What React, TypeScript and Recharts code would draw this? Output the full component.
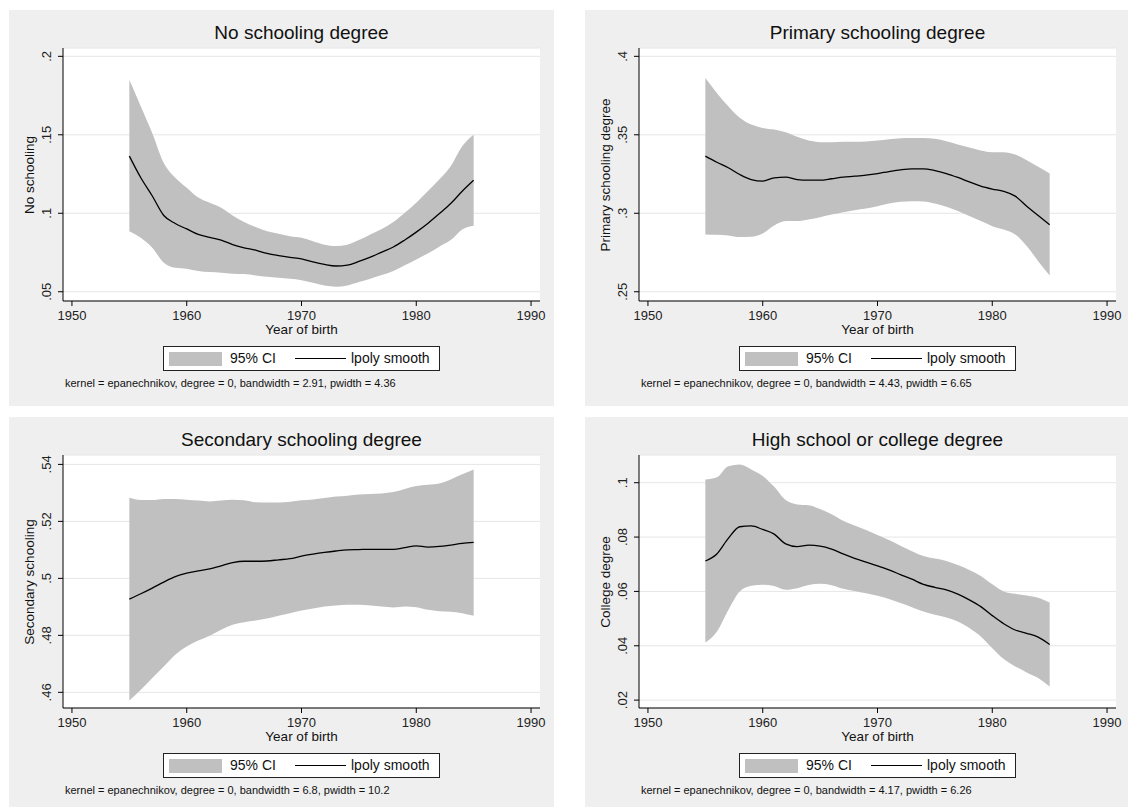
import React from "react";
import {
  ComposedChart,
  Area,
  Line,
  XAxis,
  YAxis,
  CartesianGrid,
} from "recharts";

// birth cohorts, one estimate per year
const years = [
  1955, 1956, 1957, 1958, 1959, 1960, 1961, 1962, 1963, 1964, 1965, 1966, 1967, 1968, 1969, 1970,
  1971, 1972, 1973, 1974, 1975, 1976, 1977, 1978, 1979, 1980, 1981, 1982, 1983, 1984, 1985,
];
const yearTicks = [1950, 1960, 1970, 1980, 1990];

// No schooling
const noSchoolFit = [
  0.1364, 0.1226, 0.111, 0.0986, 0.0935, 0.09, 0.0865, 0.0846, 0.0829, 0.08, 0.078, 0.0765, 0.0744,
  0.073, 0.0719, 0.071, 0.069, 0.0674, 0.0664, 0.067, 0.0693, 0.072, 0.0753, 0.0785, 0.083, 0.088,
  0.0935, 0.0997, 0.1062, 0.114, 0.121,
];
const noSchoolHi = [
  0.185, 0.168, 0.151, 0.132, 0.1226, 0.1162, 0.11, 0.1067, 0.1035, 0.0986, 0.0944, 0.0912, 0.0886,
  0.087, 0.0854, 0.0844, 0.0822, 0.08, 0.0791, 0.08, 0.0829, 0.0865, 0.09, 0.0944, 0.1003, 0.1067,
  0.114, 0.1215, 0.13, 0.1427, 0.15,
];
const noSchoolLo = [
  0.0886, 0.0844, 0.078, 0.0685, 0.0653, 0.0647, 0.0632, 0.0625, 0.0621, 0.0615, 0.0613, 0.0604,
  0.0596, 0.0589, 0.0583, 0.0574, 0.0557, 0.054, 0.0532, 0.054, 0.0562, 0.0583, 0.0606, 0.0632,
  0.0668, 0.0706, 0.0744, 0.0787, 0.0829, 0.0897, 0.092,
];

// Primary schooling
const primaryFit = [
  0.3364, 0.3325, 0.329, 0.3247, 0.3215, 0.3205, 0.3226, 0.323, 0.3215, 0.3211, 0.3211, 0.322, 0.323,
  0.3236, 0.3243, 0.3253, 0.3266, 0.3277, 0.3283, 0.3283, 0.3272, 0.3253, 0.3228, 0.32, 0.3173,
  0.3154, 0.3139, 0.3109, 0.3045, 0.2986, 0.2927,
];
const primaryHi = [
  0.3862, 0.3767, 0.3682, 0.3608, 0.3565, 0.3544, 0.3533, 0.3516, 0.3487, 0.3463, 0.3453, 0.3453,
  0.3455, 0.3455, 0.3457, 0.3463, 0.3472, 0.3478, 0.348, 0.348, 0.3474, 0.3459, 0.3438, 0.3419, 0.34,
  0.3389, 0.3389, 0.3374, 0.3338, 0.3296, 0.3253,
];
const primaryLo = [
  0.2865, 0.2863, 0.2859, 0.2848, 0.285, 0.2871, 0.2922, 0.295, 0.295, 0.2961, 0.2975, 0.2992, 0.3007,
  0.302, 0.3031, 0.3045, 0.3062, 0.3073, 0.3077, 0.3075, 0.3062, 0.3041, 0.3014, 0.2982, 0.295,
  0.2918, 0.2897, 0.2865, 0.2791, 0.2695, 0.2604,
];

// Secondary schooling
const secondaryFit = [
  0.4927, 0.4946, 0.4966, 0.4987, 0.5006, 0.5018, 0.5026, 0.5033, 0.5044, 0.5055, 0.506, 0.506,
  0.5061, 0.5065, 0.5069, 0.5078, 0.5085, 0.5091, 0.5096, 0.51, 0.5101, 0.5102, 0.5102, 0.5102,
  0.5108, 0.5114, 0.511, 0.5112, 0.5117, 0.5123, 0.5126,
];
const secondaryHi = [
  0.5283, 0.5275, 0.5275, 0.5279, 0.5279, 0.5276, 0.5273, 0.527, 0.5273, 0.5276, 0.5274, 0.5267,
  0.5266, 0.5266, 0.5269, 0.5274, 0.5277, 0.5282, 0.5287, 0.529, 0.5294, 0.5296, 0.5298, 0.5303,
  0.5314, 0.5324, 0.5329, 0.5333, 0.5347, 0.5365, 0.5382,
];
const secondaryLo = [
  0.4571, 0.4609, 0.465, 0.4691, 0.4732, 0.4761, 0.4782, 0.4799, 0.482, 0.4837, 0.4846, 0.4852,
  0.4859, 0.4869, 0.4878, 0.4887, 0.4894, 0.4901, 0.4905, 0.4907, 0.4907, 0.4905, 0.4901, 0.4898,
  0.4901, 0.4899, 0.489, 0.4885, 0.4883, 0.4878, 0.4869,
];

// High school or college
const collegeFit = [
  0.0712, 0.0738, 0.0795, 0.0838, 0.0841, 0.0828, 0.0811, 0.0775, 0.0765, 0.077, 0.0767, 0.0756,
  0.0738, 0.0722, 0.0708, 0.0694, 0.0679, 0.0662, 0.0645, 0.0626, 0.0615, 0.0606, 0.059, 0.0569,
  0.0544, 0.0511, 0.0481, 0.0458, 0.0446, 0.0432, 0.0405,
];
const collegeHi = [
  0.1012, 0.102, 0.1061, 0.1067, 0.1049, 0.1025, 0.0985, 0.0936, 0.092, 0.0917, 0.0903, 0.0884, 0.086,
  0.0843, 0.0826, 0.0808, 0.0789, 0.0768, 0.0748, 0.073, 0.0721, 0.0712, 0.0697, 0.0679, 0.0657,
  0.0626, 0.06, 0.0591, 0.0585, 0.0577, 0.0559,
];
const collegeLo = [
  0.0412, 0.0452, 0.0532, 0.06, 0.0621, 0.0625, 0.062, 0.0606, 0.0612, 0.0624, 0.0628, 0.0623, 0.061,
  0.0602, 0.0593, 0.0584, 0.0572, 0.0557, 0.0542, 0.0526, 0.0514, 0.0504, 0.0489, 0.0465, 0.0434,
  0.0391, 0.0351, 0.0324, 0.0302, 0.0281, 0.025,
];

const FONT = "'Liberation Sans', Arial, sans-serif";
const PANEL_W = 545;
const PANEL_H = 396;
const PLOT_LEFT = 54;
const PLOT_RIGHT = 531;
const PLOT_TOP = 38;
const PLOT_BOTTOM = 291;
const CI_FILL = "#c0c0c0";

const dropZero = (v: number) => String(Number(v.toFixed(3))).replace(/^0\./, ".");

function YTick(props: any) {
  const { x, y, payload } = props;
  const bx = x - 4.5;
  return (
    <text
      x={bx}
      y={y}
      transform={`rotate(-90 ${bx} ${y})`}
      textAnchor="middle"
      fontSize={13}
      fontFamily={FONT}
      fill="#222"
    >
      {dropZero(payload.value)}
    </text>
  );
}

function XTick(props: any) {
  const { x, y, payload } = props;
  return (
    <text x={x} y={y + 12} textAnchor="middle" fontSize={13} fontFamily={FONT} fill="#222">
      {payload.value}
    </text>
  );
}

type PanelProps = {
  left: number;
  top: number;
  title: string;
  yTitle: string;
  note: string;
  yDomain: [number, number];
  yTicks: number[];
  fit: number[];
  lo: number[];
  hi: number[];
};

function Panel({ left, top, title, yTitle, note, yDomain, yTicks, fit, lo, hi }: PanelProps) {
  const rows = years.map((year, i) => ({ year, fit: fit[i], ci: [lo[i], hi[i]] }));
  const plotCx = (PLOT_LEFT + PLOT_RIGHT) / 2;
  const plotCy = (PLOT_TOP + PLOT_BOTTOM) / 2;
  return (
    <div
      style={{
        position: "absolute",
        left,
        top,
        width: PANEL_W,
        height: PANEL_H,
        background: "#efefef",
        fontFamily: FONT,
        color: "#111",
      }}
    >
      <div
        style={{
          position: "absolute",
          left: 0,
          width: plotCx * 2,
          top: 12,
          textAlign: "center",
          fontSize: 19,
          lineHeight: "22px",
        }}
      >
        {title}
      </div>
      <div
        style={{
          position: "absolute",
          left: 21 - 100,
          top: plotCy - 9,
          width: 200,
          textAlign: "center",
          fontSize: 13.5,
          lineHeight: "18px",
          transform: "rotate(-90deg)",
        }}
      >
        {yTitle}
      </div>
      <ComposedChart
        width={PANEL_W}
        height={PANEL_H}
        data={rows}
        margin={{ top: PLOT_TOP, right: PANEL_W - PLOT_RIGHT, left: 0, bottom: PANEL_H - PLOT_BOTTOM - 30 }}
      >
        <CartesianGrid horizontal vertical={false} stroke="#e6e6e6" fill="#ffffff" />
        <XAxis
          dataKey="year"
          type="number"
          domain={[1949.22, 1990.78]}
          ticks={yearTicks}
          interval={0}
          allowDataOverflow
          height={30}
          stroke="#000"
          tickSize={5}
          tick={<XTick />}
        />
        <YAxis
          type="number"
          domain={yDomain}
          ticks={yTicks}
          interval={0}
          allowDataOverflow
          width={PLOT_LEFT}
          stroke="#000"
          tickSize={5}
          tick={<YTick />}
        />
        <Area
          dataKey="ci"
          type="monotone"
          stroke="none"
          fill={CI_FILL}
          fillOpacity={1}
          isAnimationActive={false}
        />
        <Line
          dataKey="fit"
          type="monotone"
          stroke="#000"
          strokeWidth={1.3}
          dot={false}
          isAnimationActive={false}
        />
      </ComposedChart>
      <div
        style={{
          position: "absolute",
          left: 0,
          width: plotCx * 2,
          top: 312,
          textAlign: "center",
          fontSize: 13.5,
          lineHeight: "16px",
        }}
      >
        Year of birth
      </div>
      <div
        style={{
          position: "absolute",
          left: plotCx - 138.5,
          top: 336,
          width: 277,
          height: 25,
          boxSizing: "border-box",
          border: "1px solid #222",
          background: "#fff",
        }}
      >
        <div style={{ position: "absolute", left: 5, top: 5, width: 53, height: 14, background: CI_FILL }} />
        <div style={{ position: "absolute", left: 66, top: 3, fontSize: 14, lineHeight: "17px" }}>95% CI</div>
        <div style={{ position: "absolute", left: 131, top: 11, width: 51, height: 1.3, background: "#000" }} />
        <div style={{ position: "absolute", left: 187, top: 3, fontSize: 14, lineHeight: "17px" }}>
          lpoly smooth
        </div>
      </div>
      <div style={{ position: "absolute", left: 56, top: 366, fontSize: 11, lineHeight: "14px" }}>{note}</div>
    </div>
  );
}

export default function App() {
  return (
    <div
      style={{
        position: "absolute",
        left: 0,
        top: 0,
        width: 1128,
        height: 807,
        overflow: "hidden",
        background: "#fff",
      }}
    >
      <Panel
        left={9}
        top={10}
        title="No schooling degree"
        yTitle="No schooling"
        note="kernel = epanechnikov, degree = 0, bandwidth = 2.91, pwidth = 4.36"
        yDomain={[0.0441, 0.2053]}
        yTicks={[0.05, 0.1, 0.15, 0.2]}
        fit={noSchoolFit}
        lo={noSchoolLo}
        hi={noSchoolHi}
      />
      <Panel
        left={585}
        top={10}
        title="Primary schooling degree"
        yTitle="Primary schooling degree"
        note="kernel = epanechnikov, degree = 0, bandwidth = 4.43, pwidth = 6.65"
        yDomain={[0.2441, 0.4053]}
        yTicks={[0.25, 0.3, 0.35, 0.4]}
        fit={primaryFit}
        lo={primaryLo}
        hi={primaryHi}
      />
      <Panel
        left={9}
        top={417}
        title="Secondary schooling degree"
        yTitle="Secondary schooling"
        note="kernel = epanechnikov, degree = 0, bandwidth = 6.8, pwidth = 10.2"
        yDomain={[0.4545, 0.5433]}
        yTicks={[0.46, 0.48, 0.5, 0.52, 0.54]}
        fit={secondaryFit}
        lo={secondaryLo}
        hi={secondaryHi}
      />
      <Panel
        left={585}
        top={417}
        title="High school or college degree"
        yTitle="College degree"
        note="kernel = epanechnikov, degree = 0, bandwidth = 4.17, pwidth = 6.26"
        yDomain={[0.0171, 0.1102]}
        yTicks={[0.02, 0.04, 0.06, 0.08, 0.1]}
        fit={collegeFit}
        lo={collegeLo}
        hi={collegeHi}
      />
    </div>
  );
}
